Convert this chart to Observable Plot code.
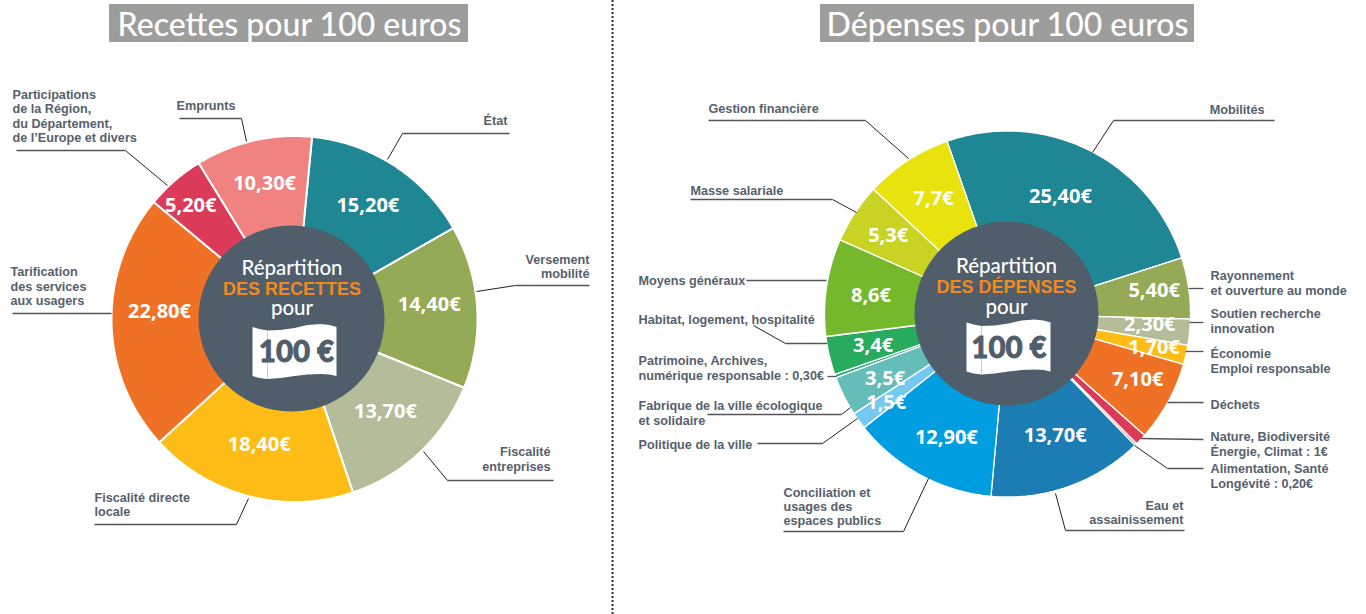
<!DOCTYPE html>
<html lang="fr"><head><meta charset="utf-8">
<style>html,body{margin:0;padding:0;background:#fff}svg{display:block}</style>
<script src="https://cdn.jsdelivr.net/npm/d3@7"></script>
<script src="https://cdn.jsdelivr.net/npm/@observablehq/plot@0.6"></script>
</head><body><div id="chart"></div>
<script>
// ---- Data ----
const revenueNames = ["État","Versement mobilité","Fiscalité entreprises","Fiscalité directe locale","Tarification des services aux usagers","Participations","Emprunts"];
const revenueValues = [15.2,14.4,13.7,18.4,22.8,5.2,10.3];
const revenueTexts = ["15,20€","14,40€","13,70€","18,40€","22,80€","5,20€","10,30€"];
const revenueColors = ["#1f8793","#94aa56","#b5bc99","#fdbd16","#ee7126","#dc3a59","#f08280"];

const spendingNames = ["Mobilités","Rayonnement","Soutien recherche","Économie","Déchets","Nature","Alimentation","Eau","Conciliation","Politique de la ville","Fabrique","Patrimoine","Habitat","Moyens généraux","Masse salariale","Gestion financière"];
const spendingValues = [25.4,5.4,2.3,1.7,7.1,1,0.2,13.7,12.9,1.5,3.5,0.3,3.4,8.6,5.3,7.7];
const spendingTexts = ["25,40€","5,40€","2,30€","1,70€","7,10€","","","13,70€","12,90€","1,5€","3,5€","","3,4€","8,6€","5,3€","7,7€"];
const spendingColors = ["#1f8793","#94aa56","#b5bc99","#fdbd16","#ee7126","#dc3a59","#f08280","#1b7db3","#009ee0","#75c8ef","#65bdb9","#29ab7a","#29ab5e","#75b82b","#c8d324","#e8e20e"];

// ---- Layout ----
const pieR = 183, labelR = 137, fontLabel = "'Liberation Sans',Arial,sans-serif", fontTitle = "Lato,sans-serif";
const revenuePie = {cx:294, cy:318.5, start:5.5, holeX:291, holeY:318, hole:93};
const spendingPie = {cx:1007, cy:313.5, start:-19.3, holeX:1006, holeY:313, hole:92};
const revenueNudgeX = [-1,-2,-3,-1,2,-14,1];
const revenueNudgeY = [2,-5,-7,-7,-11,-10,-2];
const spendingNudgeX = [-8,11,6,13,10,0,0,2,4,-10,0,0,-1,-1,-5,1];
const spendingNudgeY = [5,-4,-3,3,0,0,0,-8,3,9,3,0,0,2,-3,-1];

const titleBoxes = [{x1:109,x2:468,y1:4,y2:42,x:289,y:25,t:"Recettes pour 100 euros"},{x1:820,x2:1194,y1:4,y2:42,x:1007,y:25,t:"Dépenses pour 100 euros"}];
const leftLabels = [
 ["Participations\nde la Région,\ndu Département,\nde l’Europe et divers",12,115.5,"start"],
 ["Emprunts",176,105,"start"],
 ["État",507,120,"end"],
 ["Versement\nmobilité",589,266,"end"],
 ["Fiscalité\nentreprises",550,458.5,"end"],
 ["Fiscalité directe\nlocale",94,504,"start"],
 ["Tarification\ndes services\naux usagers",10,285.5,"start"],
 ["Gestion financière",708,107.5,"start"],
 ["Masse salariale",690,189.5,"start"],
 ["Moyens généraux",638,279.5,"start"],
 ["Habitat, logement, hospitalité",638,318.5,"start"],
 ["Patrimoine, Archives,\nnumérique responsable : 0,30€",638,367.5,"start"],
 ["Fabrique de la ville écologique\net solidaire",638,412.5,"start"],
 ["Politique de la ville",638,443.5,"start"],
 ["Conciliation et\nusages des\nespaces publics",783,506,"start"],
 ["Eau et\nassainissement",1183,512,"end"],
 ["Mobilités",1264,108.5,"end"],
 ["Rayonnement\net ouverture au monde",1210,282.5,"start"],
 ["Soutien recherche\ninnovation",1210,320.5,"start"],
 ["Économie\nEmploi responsable",1210,360.5,"start"],
 ["Déchets",1210,403.5,"start"],
 ["Nature, Biodiversité\nÉnergie, Climat : 1€",1210,443.5,"start"],
 ["Alimentation, Santé\nLongévité : 0,20€",1210,475.5,"start"]
].map(([t,x,y,a])=>({t,x,y,a}));

// each leader: from the ring (thin dark) to the elbow, then the grey rule under the label
const leaders = [
 [[167,185],[125,150],[16,150]],[[246,141],[241,118],[179,118]],[[387,159],[402,133],[509,133]],
 [[476,291],[515,285],[589,285]],[[423,451],[447,480],[553,480]],[[248,498],[236,524],[94,524]],
 [[111,313],[111,313],[12,313]],
 [[908,158],[865,120],[708,120]],[[856,212],[832,199],[690,199]],[[826,280],[826,280],[746,280]],
 [[753,325],[785,343],[827,343]],[[836,376],[836,376],[827,376]],[[850,407],[841,414],[707,414]],
 [[857,418],[822,443],[757,443]],[[928,478],[903,531],[783,531]],[[1055,493],[1065,530],[1184,530]],
 [[1092,152],[1113,120],[1274,120]],[[1188,288],[1188,288],[1203,288]],[[1189,322],[1189,322],[1203,322]],
 [[1185,351],[1185,351],[1203,351]],[[1167,402],[1167,402],[1203,402]],[[1140,438],[1140,438],[1203,439]],
 [[1134,445],[1167,468],[1203,468]]
];

const flagOutline = [[-42,-25],[-35,-23],[-27,-21.5],[-14,-22],[0,-24],[13,-27],[26,-28],[35,-27],[42,-25],
 [42,24],[35,22.5],[26,22],[13,22.5],[0,24],[-14,26],[-27,27],[-35,26],[-42,24],[-42,-25]];
const centers = [
 {x:291.5,y:268,top:"DES RECETTES",yTop:289,yPour:308,fx:294,fy:351.5,tx:296,ty:352},
 {x:1006,y:266,top:"DES DÉPENSES",yTop:287,yPour:307,fx:1008,fy:347,tx:1008.5,ty:348}
];

// ---- Wedges from the values ----
function wedges(names, values, texts, nudgeX, nudgeY, pie){
  const arcs = d3.pie().sort(null).startAngle(pie.start*Math.PI/180).endAngle((pie.start+360)*Math.PI/180)(values);
  const polys=[], labels=[];
  arcs.forEach((a,i)=>{
    const n=Math.max(2,Math.ceil((a.endAngle-a.startAngle)/0.015));
    const pts=[{x:pie.cx,y:pie.cy,name:names[i]}];
    for(let k=0;k<=n;k++){
      const t=a.startAngle+(a.endAngle-a.startAngle)*k/n;
      pts.push({x:pie.cx+pieR*Math.sin(t),y:pie.cy-pieR*Math.cos(t),name:names[i]});
    }
    pts.push(pts[0]);
    polys.push(...pts);
    const m=(a.startAngle+a.endAngle)/2;
    labels.push({x:pie.cx+labelR*Math.sin(m)+nudgeX[i],y:pie.cy-labelR*Math.cos(m)+nudgeY[i],t:texts[i]});
  });
  return {polys,labels};
}
const rev=wedges(revenueNames,revenueValues,revenueTexts,revenueNudgeX,revenueNudgeY,revenuePie);
const spe=wedges(spendingNames,spendingValues,spendingTexts,spendingNudgeX,spendingNudgeY,spendingPie);
const thin=leaders.filter(l=>l[0][0]!==l[1][0]||l[0][1]!==l[1][1]);
const flags=centers.flatMap((c,i)=>flagOutline.map(p=>({x:c.fx+p[0],y:c.fy+p[1],i})));
const folds=centers.map(c=>({x:c.fx-27,y1:c.fy-21.5,y2:c.fy+27}));

const chart=Plot.plot({
  width:1366,height:614,margin:0,
  style:{background:"#fff",overflow:"visible"},
  x:{domain:[0,1366],range:[0,1366],axis:null},
  y:{domain:[0,614],range:[0,614],axis:null},
  color:{type:"ordinal",domain:[...revenueNames,...spendingNames],range:[...revenueColors,...spendingColors]},
  marks:[
    Plot.ruleX([612],{y1:0,y2:614,stroke:"#333",strokeWidth:2,strokeDasharray:"2 2"}),
    Plot.rect(titleBoxes,{x1:"x1",x2:"x2",y1:"y1",y2:"y2",fill:"#9d9d9c"}),
    Plot.text(titleBoxes,{x:"x",y:"y",text:"t",fill:"#fff",fontSize:32,fontWeight:500,fontFamily:fontTitle}),
    Plot.line(rev.polys,{x:"x",y:"y",z:"name",fill:"name",stroke:"#fff",strokeWidth:2,strokeLinejoin:"miter"}),
    Plot.line(spe.polys,{x:"x",y:"y",z:"name",fill:"name",stroke:"#fff",strokeWidth:1.3,strokeLinejoin:"miter"}),
    Plot.dot([revenuePie],{x:"holeX",y:"holeY",r:93,fill:"#505d6b"}),
    Plot.dot([spendingPie],{x:"holeX",y:"holeY",r:92,fill:"#505d6b"}),
    Plot.text([...rev.labels,...spe.labels],{x:"x",y:"y",text:"t",fill:"#fff",fontSize:20,fontWeight:700,fontFamily:"'Open Sans',sans-serif"}),
    Plot.link(thin,{x1:l=>l[0][0],y1:l=>l[0][1],x2:l=>l[1][0],y2:l=>l[1][1],stroke:"#222",strokeWidth:1}),
    Plot.link(leaders,{x1:l=>l[1][0],y1:l=>l[1][1],x2:l=>l[2][0],y2:l=>l[2][1],stroke:"#555",strokeWidth:1.3}),
    Plot.text(leftLabels,{x:"x",y:"y",text:"t",textAnchor:"start",filter:d=>d.a==="start",fill:"#56616e",fontSize:12.65,fontWeight:700,fontFamily:fontLabel,lineHeight:1.13}),
    Plot.text(leftLabels,{x:"x",y:"y",text:"t",textAnchor:"end",filter:d=>d.a==="end",fill:"#56616e",fontSize:12.65,fontWeight:700,fontFamily:fontLabel,lineHeight:1.13}),
    Plot.text(centers,{x:"x",y:"y",text:()=>"Répartition",fill:"#fff",fontSize:20.5,fontWeight:500,fontFamily:fontTitle}),
    Plot.text(centers,{x:"x",y:"yTop",text:"top",fill:"#f08a1d",fontSize:18,fontWeight:700,fontFamily:fontLabel}),
    Plot.text(centers,{x:"x",y:"yPour",text:()=>"pour",fill:"#fff",fontSize:20.5,fontWeight:500,fontFamily:fontTitle}),
    Plot.line(flags,{x:"x",y:"y",z:"i",fill:"#fff",stroke:"none"}),
    Plot.link(folds,{x1:"x",x2:"x",y1:"y1",y2:"y2",stroke:"#ccc",strokeWidth:1}),
    Plot.text(centers,{x:"tx",y:"ty",text:()=>"100 €",fill:"#505d6b",stroke:"#505d6b",strokeWidth:0.8,fontSize:29.5,fontWeight:900,fontFamily:fontTitle})
  ]
});
document.getElementById("chart").append(chart);
</script></body></html>
